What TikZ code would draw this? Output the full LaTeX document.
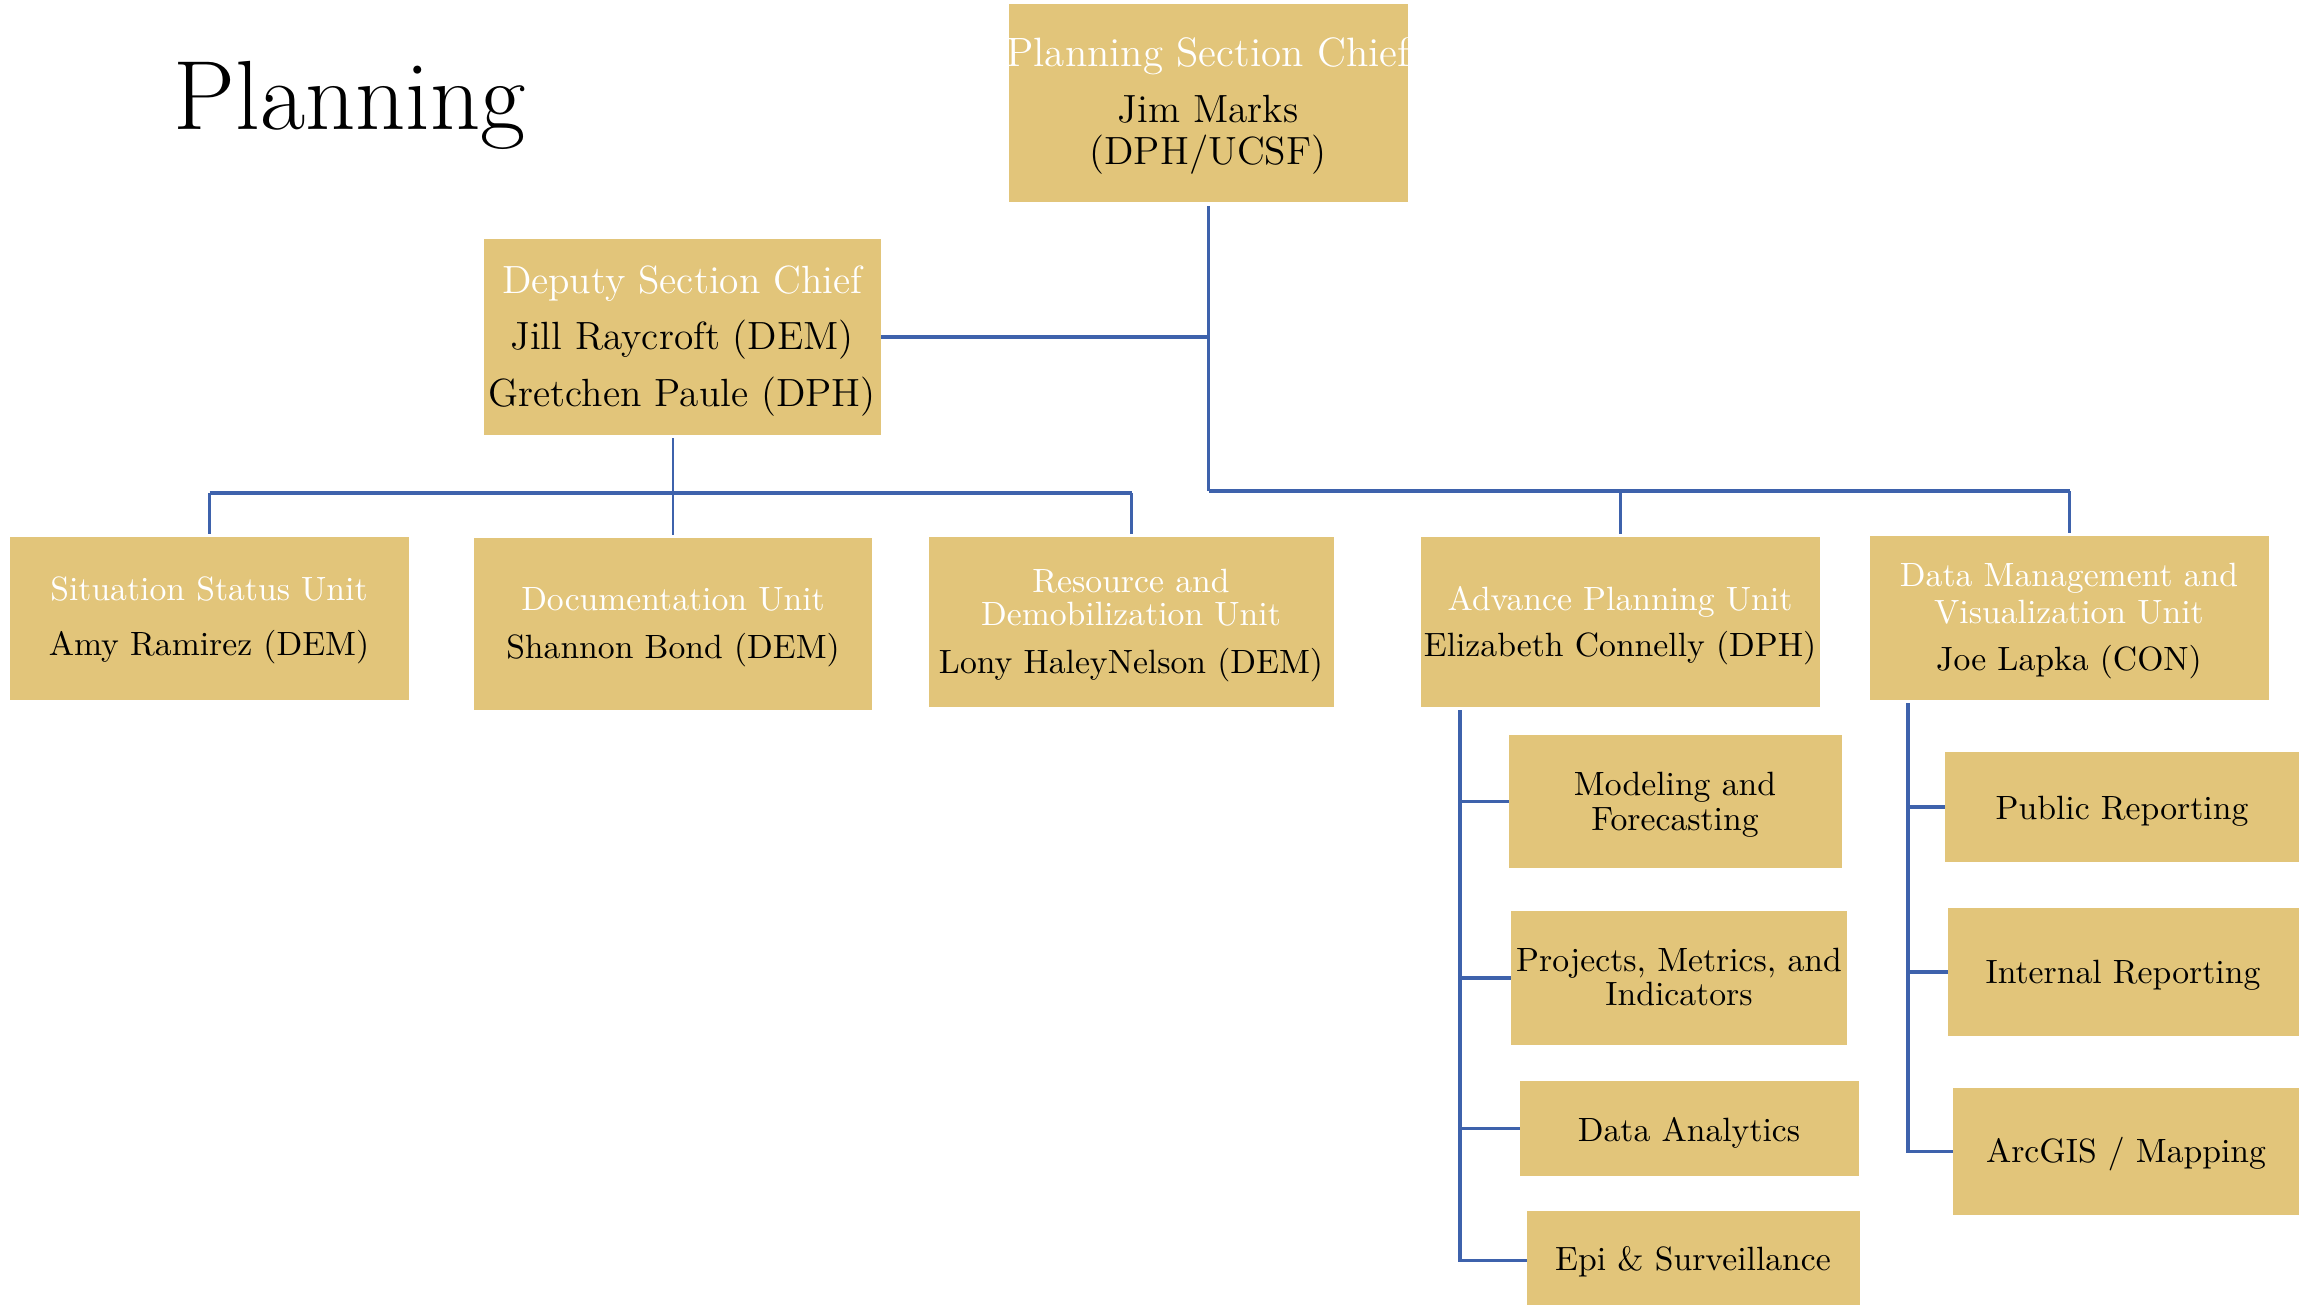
\documentclass[tikz,border=0pt]{standalone}
\usepackage{fontspec}
\usetikzlibrary{fit}
\definecolor{boxc}{RGB}{226,197,122}
\definecolor{linec}{RGB}{62,98,172}
\begin{document}
\begin{tikzpicture}[x=0.3pt,y=-0.3pt,
  box/.style={fill=boxc,draw=none,inner sep=0pt,outer sep=0pt,rectangle},
  big/.style={font=\fontsize{11.8}{12}\selectfont},
  bigger/.style={font=\fontsize{12.3}{13}\selectfont},
  small/.style={font=\fontsize{10.1}{11}\selectfont},
  hd/.style={text=white,inner sep=0pt,anchor=base},
  nm/.style={text=black,inner sep=0pt,anchor=base},
  ln/.style={draw=linec,line width=0.95pt},
  drop/.style={draw=linec,line width=0.65pt},
  hair/.style={draw=linec,line width=0.45pt}]
\useasboundingbox (0,0) rectangle (2299,1305);
\begin{scope}
\clip (0,0) rectangle (2299,1305);
% title
\node[inner sep=0pt,anchor=base west,font=\fontsize{29.5}{32}\selectfont] (title) at (173,130) {Planning};
% boxes
\node[box,fit={(1009,4) (1408,202)}] (chief) {};
\node[box,fit={(484,239) (881,435)}] (deputy) {};
\node[box,fit={(10,537) (409,700)}] (sit) {};
\node[box,fit={(474,538) (872,710)}] (doc) {};
\node[box,fit={(929,537) (1334,707)}] (res) {};
\node[box,fit={(1421,537) (1820,707)}] (adv) {};
\node[box,fit={(1870,536) (2269,700)}] (dm) {};
\node[box,fit={(1509,735) (1842,868)}] (mf) {};
\node[box,fit={(1511,911) (1847,1045)}] (pmi) {};
\node[box,fit={(1520,1081) (1859,1176)}] (da) {};
\node[box,fit={(1527,1211) (1860,1310)}] (epi) {};
\node[box,fit={(1945,752) (2310,862)}] (pr) {};
\node[box,fit={(1948,908) (2310,1036)}] (ir) {};
\node[box,fit={(1953,1088) (2310,1215)}] (arc) {};
% texts
\node[hd,bigger] (chiefA) at (1208,67) {Planning Section Chief};
\node[nm,big] (chiefB) at (1208,123) {Jim Marks};
\node[nm,big] (chiefC) at (1208,165) {(DPH/UCSF)};
\node[hd,big] (depA) at (682,293) {Deputy Section Chief};
\node[nm,big] (depB) at (682,349) {Jill Raycroft (DEM)};
\node[nm,big] (depC) at (682,406) {Gretchen Paule (DPH)};
\node[hd,small] (sitA) at (209,600) {Situation Status Unit};
\node[nm,small] (sitB) at (209,655) {Amy Ramirez (DEM)};
\node[hd,small] (docA) at (673,610) {Documentation Unit};
\node[nm,small] (docB) at (673,658) {Shannon Bond (DEM)};
\node[hd,small] (resA) at (1131,592) {Resource and};
\node[hd,small] (resB) at (1131,625) {Demobilization Unit};
\node[nm,small] (resC) at (1131,673) {Lony HaleyNelson (DEM)};
\node[hd,small] (advA) at (1620,610) {Advance Planning Unit};
\node[nm,small] (advB) at (1620,656) {Elizabeth Connelly (DPH)};
\node[hd,small] (dmA) at (2069,586) {Data Management and};
\node[hd,small] (dmB) at (2069,623) {Visualization Unit};
\node[nm,small] (dmC) at (2069,670) {Joe Lapka (CON)};
\node[nm,small] (mfA) at (1675,795) {Modeling and};
\node[nm,small] (mfB) at (1675,830) {Forecasting};
\node[nm,small] (pmiA) at (1679,971) {Projects, Metrics, and};
\node[nm,small] (pmiB) at (1679,1005) {Indicators};
\node[nm,small] (daA) at (1689,1141) {Data Analytics};
\node[nm,small] (epiA) at (1693,1270) {Epi \& Surveillance};
\node[nm,small] (prA) at (2122,819) {Public Reporting};
\node[nm,small] (irA) at (2123,983) {Internal Reporting};
\node[nm,small] (arcA) at (2126,1162) {ArcGIS / Mapping};
% connectors
\coordinate (busR) at (1208,491);
\coordinate (busL) at (673,493);
\coordinate (advT) at (1460,710);
\coordinate (dmT) at (1908,703);
\draw[ln,shorten <=1.2pt] (chief.south) -- (chief.south |- busR);
\draw[ln] (deputy.east) -- (deputy.east -| chief.south);
\draw[hair,shorten <=1pt] (deputy.south -| doc.north) -- (busL);
\draw[ln] (sit.north |- busL) -- (res.north |- busL);
\draw[drop,shorten >=1pt] (sit.north |- busL) -- (sit.north);
\draw[drop,shorten >=1pt] (doc.north |- busL) -- (doc.north);
\draw[drop,shorten >=1pt] (res.north |- busL) -- (res.north);
\draw[ln] (chief.south |- busR) -- (dm.north |- busR);
\draw[drop,shorten >=1pt] (adv.north |- busR) -- (adv.north);
\draw[drop,shorten >=1pt] (dm.north |- busR) -- (dm.north);
\draw[ln] (advT) |- (epi.west);
\draw[ln] (advT |- mf.west) -- (mf.west);
\draw[ln] (advT |- pmi.west) -- (pmi.west);
\draw[ln] (advT |- da.west) -- (da.west);
\draw[ln] (dmT) |- (arc.west);
\draw[ln] (dmT |- pr.west) -- (pr.west);
\draw[ln] (dmT |- ir.west) -- (ir.west);
\end{scope}
\end{tikzpicture}
\end{document}
